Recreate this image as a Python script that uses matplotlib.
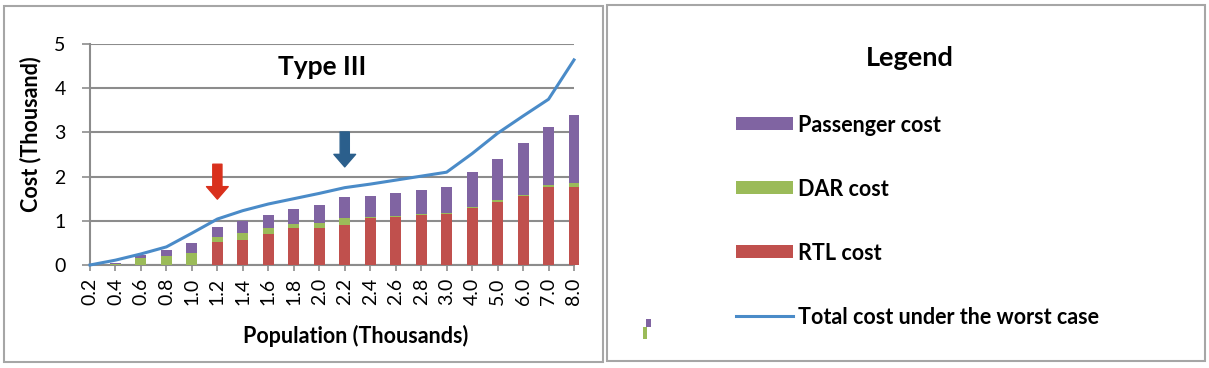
import matplotlib
matplotlib.use("Agg")
import matplotlib.pyplot as plt
from matplotlib.patches import Rectangle
from matplotlib.lines import Line2D
import numpy as np

# ── data (thousands) ─────────────────────────────────────────────────────────
population = ["0.2", "0.4", "0.6", "0.8", "1.0", "1.2", "1.4", "1.6", "1.8", "2.0",
              "2.2", "2.4", "2.6", "2.8", "3.0", "4.0", "5.0", "6.0", "7.0", "8.0"]
rtl_cost = [0.00, 0.00, 0.00, 0.00, 0.00, 0.51, 0.56, 0.70, 0.83, 0.83,
            0.90, 1.06, 1.08, 1.13, 1.15, 1.28, 1.43, 1.56, 1.77, 1.77]
dar_cost = [0.00, 0.03, 0.15, 0.20, 0.28, 0.13, 0.16, 0.13, 0.09, 0.13,
            0.16, 0.02, 0.03, 0.02, 0.02, 0.03, 0.03, 0.03, 0.03, 0.09]
passenger_cost = [0.00, 0.02, 0.07, 0.14, 0.21, 0.23, 0.28, 0.30, 0.34, 0.40,
                  0.47, 0.47, 0.53, 0.55, 0.59, 0.79, 0.94, 1.16, 1.32, 1.53]
total_worst = [0.00, 0.11, 0.25, 0.41, 0.72, 1.04, 1.23, 1.38, 1.50, 1.62,
               1.75, 1.83, 1.92, 2.01, 2.10, 2.52, 2.98, 3.37, 3.75, 4.64]

legend_labels = ["Passenger cost", "DAR cost", "RTL cost",
                 "Total cost under the worst case"]

C_RTL = "#C0504D"
C_DAR = "#9BBB59"
C_PAS = "#8064A2"
C_LINE = "#4A8BC8"
C_GRID = "#8C8C8C"
FONT = ["Lato", "DejaVu Sans"]

plt.rcParams["font.family"] = FONT

W, H = 1209, 368
fig = plt.figure(figsize=(W / 100, H / 100), dpi=100, facecolor="white")


def fx(px):
    return px / W


def fy(py):
    return (H - py) / H


# panel borders
for x0, y0, x1, y1 in [(4, 6, 603, 362), (607, 5, 1205, 361)]:
    fig.add_artist(Rectangle((fx(x0), fy(y1)), fx(x1) - fx(x0), fy(y0) - fy(y1),
                             transform=fig.transFigure, fill=False,
                             edgecolor="#A6A6A6", linewidth=1.5))

# ── chart ────────────────────────────────────────────────────────────────────
ax = fig.add_axes([fx(90), fy(265), fx(574) - fx(90), fy(44) - fy(265)])
x = np.arange(len(population))
rtl = np.array(rtl_cost)
dar = np.array(dar_cost)
pas = np.array(passenger_cost)

bw = 0.43
ax.bar(x, rtl, bw, color=C_RTL, clip_on=False, zorder=3)
ax.bar(x, dar, bw, bottom=rtl, color=C_DAR, clip_on=False, zorder=3)
ax.bar(x, pas, bw, bottom=rtl + dar, color=C_PAS, clip_on=False, zorder=3)
ax.plot(x, total_worst, color=C_LINE, linewidth=2.2, clip_on=False, zorder=4)

ax.set_xlim(0, len(population) - 1)
ax.set_ylim(0, 5)
ax.set_yticks(range(6))
ax.set_xticks(x)
ax.set_xticklabels(population, rotation=90, fontsize=14)
ax.tick_params(axis="y", labelsize=14, length=5.5, color=C_GRID, width=1.2, pad=12)
ax.tick_params(axis="x", length=4, color=C_GRID, width=1.2, pad=5)
ax.yaxis.grid(True, color=C_GRID, linewidth=1.5, zorder=0)
ax.set_axisbelow(True)
for s in ["top", "right"]:
    ax.spines[s].set_visible(False)
for s in ["bottom", "left"]:
    ax.spines[s].set_color(C_GRID)
    ax.spines[s].set_linewidth(1.5)

ax.set_ylabel("Cost (Thousand)", fontsize=15.5, fontweight="bold")
ax.yaxis.set_label_coords(-0.10, 0.593)
ax.set_xlabel("Population (Thousands)", fontsize=15.5, fontweight="bold")
ax.xaxis.set_label_coords(0.548, -0.27)
ax.text(0.479, 0.896, "Type III", transform=ax.transAxes, ha="center", va="center",
        fontsize=19, fontweight="bold")

# arrows marking the break points
arrow_style = "simple,head_length=0.75,head_width=1.3,tail_width=0.55"
ax.annotate("", xy=(5, 1.49), xytext=(5, 2.28),
            arrowprops=dict(arrowstyle=arrow_style, color="#D9301C",
                            shrinkA=0, shrinkB=0, mutation_scale=12))
ax.annotate("", xy=(10, 2.22), xytext=(10, 3.01),
            arrowprops=dict(arrowstyle=arrow_style, color="#2B5F8C",
                            shrinkA=0, shrinkB=0, mutation_scale=12))

# ── legend panel ─────────────────────────────────────────────────────────────
fig.text(fx(910), fy(58), "Legend", ha="center", va="center",
         fontsize=19.5, fontweight="bold")
legend_colors = [C_PAS, C_DAR, C_RTL, C_LINE]
for i, (lab, col) in enumerate(zip(legend_labels, legend_colors)):
    yc = 123.5 + 64 * i
    if i < 3:
        fig.add_artist(Rectangle((fx(736), fy(yc + 6.5)), fx(57), 13 / H,
                                 transform=fig.transFigure, color=col, linewidth=0))
    else:
        fig.add_artist(Line2D([fx(736), fx(793)], [fy(yc), fy(yc)],
                              transform=fig.transFigure, color=col, linewidth=2.2))
    fig.text(fx(798), fy(yc), lab, ha="left", va="center_baseline",
             fontsize=15.5, fontweight="bold")

# tiny stray legend marker in the corner of the panel
fig.add_artist(Rectangle((fx(646), fy(327)), fx(5), 8 / H, transform=fig.transFigure,
                         color=C_PAS, linewidth=0))
fig.add_artist(Rectangle((fx(643), fy(339)), fx(4), 12 / H, transform=fig.transFigure,
                         color=C_DAR, linewidth=0))

fig.savefig("out.png", dpi=100, facecolor="white")
